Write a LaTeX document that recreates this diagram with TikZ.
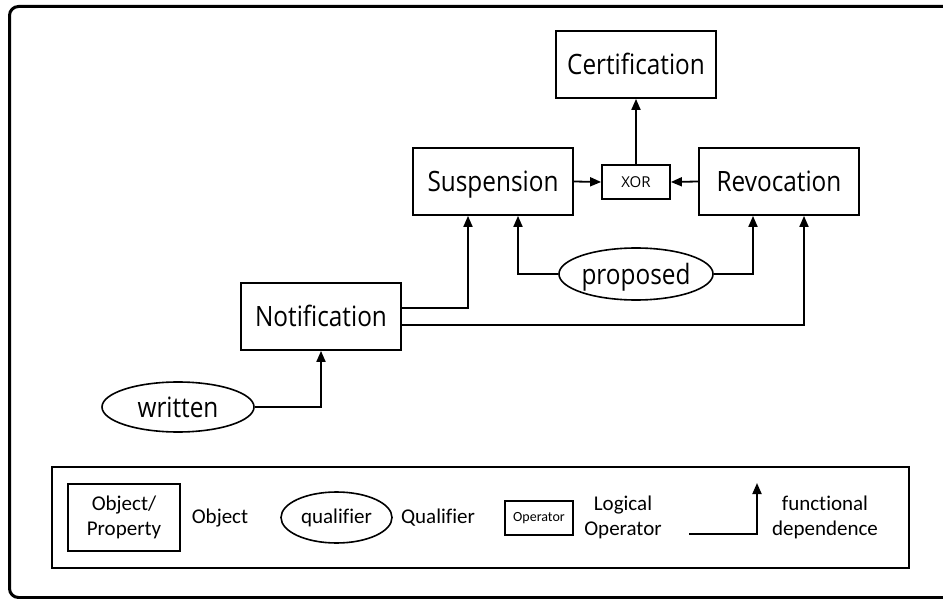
\documentclass[tikz,border=0pt]{standalone}
\usepackage{fontspec}
\setmainfont{Open Sans}
\newfontfamily\mainfnt[FakeStretch=0.87]{Open Sans}
\newfontfamily\legfont[Ligatures={NoCommon}]{Carlito}
\usetikzlibrary{arrows.meta,shapes.geometric}
\begin{document}
\begin{tikzpicture}[x=1pt,y=-1pt,
  arr/.style={draw, line width=1.8pt, -{Triangle[length=11pt,width=9pt]}},
  obox/.style={draw, line width=1.8pt, rectangle, inner sep=0pt, text height=20pt, text depth=0pt, font=\mainfnt\fontsize{28}{34}\selectfont},
  qual/.style={draw, line width=1.6pt, ellipse, inner sep=0pt, text height=20pt, text depth=0pt, font=\mainfnt\fontsize{28}{34}\selectfont},
  opbox/.style={draw, line width=1.8pt, rectangle, inner sep=0pt, text height=11pt, text depth=0pt, font=\fontsize{15}{18}\selectfont},
  legtxt/.style={inner sep=0pt, align=center, font=\legfont\fontsize{21}{25}\selectfont}
]
\useasboundingbox (0,0) rectangle (943,599);
\begin{scope}
\clip (0,0) rectangle (943,599);
\draw[line width=3pt, rounded corners=9pt] (9.5,6.5) rectangle (970,597.5);
\end{scope}

% main nodes
\node[obox, minimum width=160pt, minimum height=67pt] (cert) at (636,64.5) {Certification};
\node[obox, minimum width=160pt, minimum height=67pt] (susp) at (493,181.5) {Suspension};
\node[opbox, minimum width=68pt, minimum height=34pt] (xor) at (636,182) {XOR};
\node[obox, minimum width=160pt, minimum height=67pt] (revo) at (779,181.5) {Revocation};
\node[qual, minimum width=150pt, minimum height=52pt] (prop) at (636,274) {proposed};
\node[obox, minimum width=160pt, minimum height=67pt] (notif) at (321,316.5) {Notification};
\node[qual, minimum width=152pt, minimum height=50pt] (writ) at (178,407) {written};

% connectors
\draw[arr] (xor.north) -- (cert.south);
\draw[arr] (susp.east) -- (xor.west);
\draw[arr] (revo.west) -- (xor.east);
\draw[arr] (prop.west) -| ([xshift=25pt]susp.south);
\draw[arr] (prop.east) -| ([xshift=-26pt]revo.south);
\draw[arr] ([yshift=8.5pt]notif.east) -| ([xshift=-25pt]susp.south);
\draw[arr] ([yshift=-8.5pt]notif.east) -| ([xshift=25pt]revo.south);
\draw[arr] (writ.east) -| (notif.south);

% legend
\node[draw, line width=1.8pt, minimum width=857pt, minimum height=101pt, inner sep=0pt] (legend) at (480.5,517.5) {};
\node[draw, line width=1.8pt, minimum width=112pt, minimum height=67pt, inner sep=0pt, align=center, font=\legfont\fontsize{21}{25}\selectfont] (lobj) at (124,517.5) {Object/\\Property};
\node[legtxt] (lobjt) at (220,518) {Object};
\node[draw, line width=1.6pt, ellipse, minimum width=111pt, minimum height=51pt, inner sep=0pt, font=\legfont\fontsize{21}{25}\selectfont] (lqual) at (336.5,517.5) {qualifier};
\node[legtxt] (lqualt) at (438,518) {Qualifier};
\node[draw, line width=1.8pt, minimum width=68pt, minimum height=34pt, inner sep=0pt, font=\legfont\fontsize{14}{17}\selectfont] (lop) at (539,518) {Operator};
\node[legtxt] (lopt) at (623,517.5) {Logical\\Operator};
\coordinate (fdA) at (689,534);
\coordinate (fdB) at (757,483);
\draw[arr] (fdA) -| (fdB);
\node[legtxt] (lfdt) at (825,517.5) {functional\\dependence};
\end{tikzpicture}
\end{document}
